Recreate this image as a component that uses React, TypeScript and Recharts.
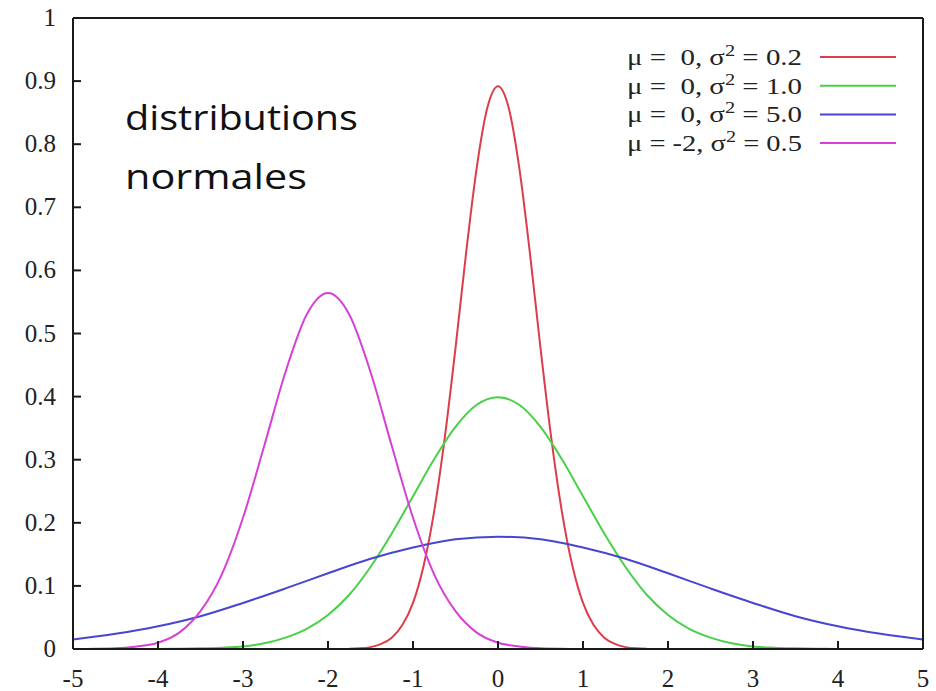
import React from "react";
import { LineChart, Line, XAxis, YAxis, Legend } from "recharts";

// x ticks / y ticks
const X_TICKS = [-5, -4, -3, -2, -1, 0, 1, 2, 3, 4, 5];
const Y_TICKS = [0, 0.1, 0.2, 0.3, 0.4, 0.5, 0.6, 0.7, 0.8, 0.9, 1];

// mu = 0, sigma^2 = 0.2 (red)
const redX = [-1.75, -1.625, -1.5, -1.375, -1.25, -1.125, -1, -0.875, -0.75, -0.625, -0.5, -0.375, -0.25, -0.125, 0,
  0.125, 0.25, 0.375, 0.5, 0.625, 0.75, 0.875, 1, 1.125, 1.25, 1.375, 1.5, 1.625, 1.75];
const redY = [0.0004, 0.001, 0.003, 0.008, 0.018, 0.038, 0.073, 0.132, 0.219, 0.336, 0.477, 0.628, 0.763, 0.858, 0.892,
  0.858, 0.763, 0.628, 0.477, 0.336, 0.219, 0.132, 0.073, 0.038, 0.018, 0.008, 0.003, 0.001, 0.0004];

// mu = 0, sigma^2 = 1.0 (green)
const greenX = [-4, -3.75, -3.5, -3.25, -3, -2.75, -2.5, -2.25, -2, -1.75, -1.5, -1.25, -1, -0.75, -0.5, -0.25, 0,
  0.25, 0.5, 0.75, 1, 1.25, 1.5, 1.75, 2, 2.25, 2.5, 2.75, 3, 3.25, 3.5, 3.75, 4];
const greenY = [0.0001, 0.0004, 0.001, 0.002, 0.004, 0.009, 0.018, 0.032, 0.054, 0.086, 0.13, 0.183, 0.242, 0.301, 0.352, 0.387, 0.399,
  0.387, 0.352, 0.301, 0.242, 0.183, 0.13, 0.086, 0.054, 0.032, 0.018, 0.009, 0.004, 0.002, 0.001, 0.0004, 0.0001];

// mu = 0, sigma^2 = 5.0 (blue)
const blueX = [-5, -4.5, -4, -3.5, -3, -2.5, -2, -1.5, -1, -0.5, 0, 0.5, 1, 1.5, 2, 2.5, 3, 3.5, 4, 4.5, 5];
const blueY = [0.015, 0.024, 0.036, 0.052, 0.073, 0.096, 0.12, 0.143, 0.161, 0.174, 0.178,
  0.174, 0.161, 0.143, 0.12, 0.096, 0.073, 0.052, 0.036, 0.024, 0.015];

// mu = -2, sigma^2 = 0.5 (magenta)
const magX = [-5, -4.75, -4.5, -4.25, -4, -3.75, -3.5, -3.25, -3, -2.75, -2.5, -2.25, -2,
  -1.75, -1.5, -1.25, -1, -0.75, -0.5, -0.25, 0, 0.25, 0.5, 0.75, 1];
const magY = [0.0001, 0.0003, 0.001, 0.004, 0.01, 0.026, 0.06, 0.118, 0.208, 0.322, 0.439, 0.53, 0.564,
  0.53, 0.439, 0.322, 0.208, 0.118, 0.06, 0.026, 0.01, 0.004, 0.001, 0.0003, 0.0001];

const SERIES = [
  { name: "μ =  0, σ² = 0.2", mu: "0", s2: "0.2", color: "#dc3c4c", xs: redX, ys: redY },
  { name: "μ =  0, σ² = 1.0", mu: "0", s2: "1.0", color: "#48d048", xs: greenX, ys: greenY },
  { name: "μ =  0, σ² = 5.0", mu: "0", s2: "5.0", color: "#4646d2", xs: blueX, ys: blueY },
  { name: "μ = -2, σ² = 0.5", mu: "-2", s2: "0.5", color: "#d640d6", xs: magX, ys: magY },
];

const SERIF = "'Liberation Serif', 'DejaVu Serif', serif";
const INK = "#1a1a1a";

const LeftTick = (props: any) => {
  const { x, y, payload } = props;
  return (
    <g>
      <line x1={x} x2={x + 8} y1={y} y2={y} stroke={INK} strokeWidth={2} />
      <text x={x - 17} y={y + 8} textAnchor="end" fontFamily={SERIF} fontSize={25} fill="#222">
        {String(payload.value)}
      </text>
    </g>
  );
};

const BottomTick = (props: any) => {
  const { x, y, payload } = props;
  return (
    <g>
      <line x1={x} x2={x} y1={y} y2={y - 8} stroke={INK} strokeWidth={2} />
      <text x={x} y={y + 38} textAnchor="middle" fontFamily={SERIF} fontSize={25} fill="#222">
        {String(payload.value)}
      </text>
    </g>
  );
};

const KeyBox = () => (
  <svg width={300} height={150}>
    {SERIES.map((s, i) => {
      const ly = 24 + i * 28.7;
      return (
        <g key={s.name}>
          <text x={182} y={ly + 8} textAnchor="end" fontFamily={SERIF} fontSize={24} fill="#222"
            textLength={175} lengthAdjust="spacingAndGlyphs" style={{ whiteSpace: "pre" }}>
            {`μ = ${s.mu === "0" ? " 0" : s.mu}, σ`}
            <tspan fontSize={17} dy={-9}>2</tspan>
            <tspan dy={9}>{` = ${s.s2}`}</tspan>
          </text>
          <line x1={200} x2={276} y1={ly} y2={ly} stroke={s.color} strokeWidth={2} />
        </g>
      );
    })}
  </svg>
);

export default function App() {
  return (
    <div style={{ position: "absolute", left: 0, top: 0, width: 936, height: 691, background: "#fff" }}>
      <LineChart width={936} height={691} margin={{ top: 18, right: 13, bottom: 0, left: 0 }}>
        <XAxis
          type="number"
          dataKey="x"
          domain={[-5, 5]}
          ticks={X_TICKS}
          allowDataOverflow
          height={42}
          tickSize={0}
          tickMargin={0}
          axisLine={{ stroke: INK, strokeWidth: 2 }}
          tickLine={false}
          tick={<BottomTick />}
        />
        <XAxis
          xAxisId="top"
          orientation="top"
          type="number"
          dataKey="x"
          domain={[-5, 5]}
          ticks={X_TICKS}
          allowDataOverflow
          height={1}
          mirror
          tickSize={8}
          tick={false}
          axisLine={{ stroke: INK, strokeWidth: 2 }}
          tickLine={{ stroke: INK, strokeWidth: 2 }}
        />
        <YAxis
          type="number"
          domain={[0, 1]}
          ticks={Y_TICKS}
          allowDataOverflow
          width={73}
          tickSize={0}
          tickMargin={0}
          axisLine={{ stroke: INK, strokeWidth: 2 }}
          tickLine={false}
          tick={<LeftTick />}
        />
        <YAxis
          yAxisId="r"
          orientation="right"
          type="number"
          domain={[0, 1]}
          ticks={Y_TICKS}
          allowDataOverflow
          width={1}
          mirror
          tickSize={8}
          tick={false}
          axisLine={{ stroke: INK, strokeWidth: 2 }}
          tickLine={{ stroke: INK, strokeWidth: 2 }}
        />
        {SERIES.map((s, i) => (
          <Line
            key={s.name}
            name={s.name}
            data={s.xs.map((x, j) => ({ x, y: s.ys[j] }))}
            dataKey="y"
            xAxisId={i === 2 ? "top" : 0}
            yAxisId={i === 2 ? "r" : 0}
            type="monotone"
            stroke={s.color}
            strokeWidth={2}
            dot={false}
            activeDot={false}
            isAnimationActive={false}
          />
        ))}
        <Legend
          layout="horizontal"
          verticalAlign="middle"
          align="center"
          content={<KeyBox />}
          wrapperStyle={{ position: "absolute", left: 620, top: 33, width: 300, height: 150 }}
        />
      </LineChart>
      <svg
        width={300}
        height={120}
        style={{ position: "absolute", left: 110, top: 90, pointerEvents: "none" }}
      >
        <text x={15} y={40} fontFamily="'Open Sans', 'Noto Sans', sans-serif" fontSize={35} fill="#111"
          textLength={233} lengthAdjust="spacingAndGlyphs">
          distributions
        </text>
        <text x={15} y={99} fontFamily="'Open Sans', 'Noto Sans', sans-serif" fontSize={35} fill="#111"
          textLength={182} lengthAdjust="spacingAndGlyphs">
          normales
        </text>
      </svg>
    </div>
  );
}
